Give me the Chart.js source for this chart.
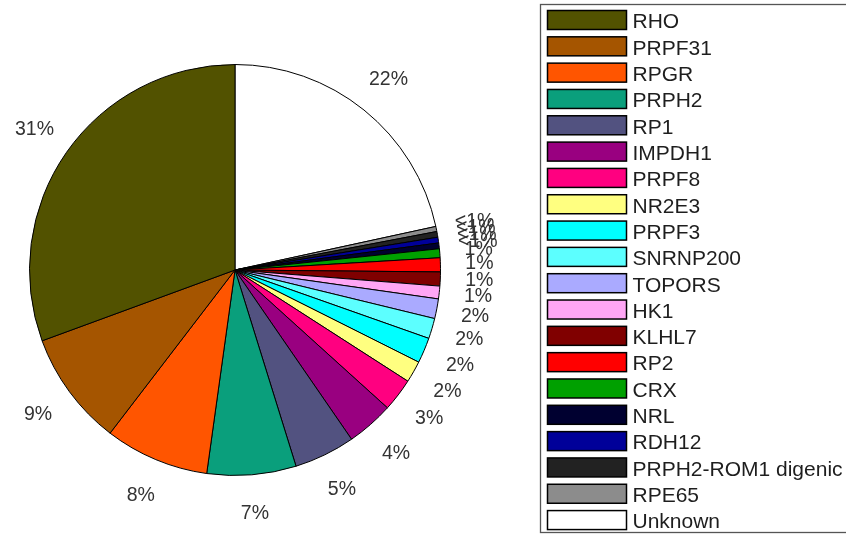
<!DOCTYPE html>
<html>
<head>
<meta charset="utf-8">
<script src="https://cdn.jsdelivr.net/npm/chart.js@4.4.1/dist/chart.umd.min.js"></script>
<style>
  html, body { margin: 0; padding: 0; background: #fff; }
  #grafico { display: block; }
</style>
</head>
<body>
<canvas id="grafico" width="846" height="535"></canvas>
<script>
// genes na ordem da legenda (de cima pra baixo)
const genes = ['RHO', 'PRPF31', 'RPGR', 'PRPH2', 'RP1', 'IMPDH1', 'PRPF8', 'NR2E3', 'PRPF3', 'SNRNP200',
	'TOPORS', 'HK1', 'KLHL7', 'RP2', 'CRX', 'NRL', 'RDH12', 'PRPH2-ROM1 digenic', 'RPE65', 'Unknown'];
// % das familias em cada gene
const shares = [30.6, 9.0, 8.2, 7.0, 4.8, 3.7, 2.6, 1.7, 2.0, 1.6,
	1.55, 1.0, 1.1, 1.1, 0.7, 0.45, 0.45, 0.45, 0.4, 21.6];
const cores = ['#525200', '#a55500', '#ff5500', '#0a9f7c', '#525280', '#990080', '#ff0080', '#ffff80', '#00ffff', '#5cffff',
	'#aaaaff', '#ffa6f5', '#800000', '#ff0000', '#00a000', '#000030', '#000099', '#222222', '#8c8c8c', '#ffffff'];

// a pizza gira no sentido horario a partir do topo, comecando pelo Unknown, entao inverte tudo
const fatias = genes.slice().reverse();
const valores = shares.slice().reverse();
const coresFatias = cores.slice().reverse();

// rotulos de % fora da pizza, no meio de cada fatia
const rotulos = {
	id: 'rotulos',
	afterDatasetsDraw(chart) {
		const ctx = chart.ctx;
		const dados = chart.data.datasets[0].data;
		const total = dados.reduce((a, b) => a + b, 0);
		ctx.save();
		ctx.font = '19.5px "Liberation Sans", Arial, sans-serif';
		ctx.fillStyle = '#333';
		ctx.textAlign = 'center';
		ctx.textBaseline = 'middle';
		chart.getDatasetMeta(0).data.forEach((arco, i) => {
			const { x, y, startAngle, endAngle, outerRadius } =
				arco.getProps(['x', 'y', 'startAngle', 'endAngle', 'outerRadius'], true);
			const meio = (startAngle + endAngle) / 2;
			const r = outerRadius + 39;
			const pct = dados[i] / total * 100;
			const texto = pct < 0.5 ? '<1%' : Math.round(pct) + '%';
			ctx.fillText(texto, x + Math.cos(meio) * r, y + Math.sin(meio) * r);
		});
		ctx.restore();
	}
};

// legenda com moldura, desenhada na mao pra ficar do jeito certo
const legenda = {
	id: 'legenda',
	afterDraw(chart) {
		const ctx = chart.ctx;
		const ds = chart.data.datasets[0];
		ctx.save();
		ctx.strokeStyle = '#555';
		ctx.lineWidth = 1.3;
		ctx.strokeRect(540.5, 4.5, 330, 528);
		ctx.font = '21px "Liberation Sans", Arial, sans-serif';
		ctx.textBaseline = 'alphabetic';
		ctx.textAlign = 'left';
		genes.forEach((gene, i) => {
			const topo = 10 + i * 26.32;
			// mesma cor da fatia
			ctx.fillStyle = ds.backgroundColor[fatias.indexOf(gene)];
			ctx.fillRect(547.5, topo + 0.5, 79, 19);
			ctx.strokeStyle = '#000';
			ctx.lineWidth = 1.5;
			ctx.strokeRect(547.5, topo + 0.5, 79, 19);
			ctx.fillStyle = '#1e1e1e';
			ctx.fillText(gene, 632.5, topo + 18.3);
		});
		ctx.restore();
	}
};

const grafico = document.getElementById('grafico').getContext('2d');
const myChart = new Chart(grafico, {
	type: 'pie',
	data: {
		labels: fatias,
		datasets: [{
			data: valores,
			backgroundColor: coresFatias,
			borderColor: '#000',
			borderWidth: 1
		}]
	},
	options: {
		responsive: false,
		animation: false,
		devicePixelRatio: 1,
		layout: { padding: { left: 0, right: 376, top: 64, bottom: 59 } },
		plugins: {
			legend: { display: false },
			tooltip: { enabled: false }
		}
	},
	plugins: [rotulos, legenda]
});
</script>
</body>
</html>
